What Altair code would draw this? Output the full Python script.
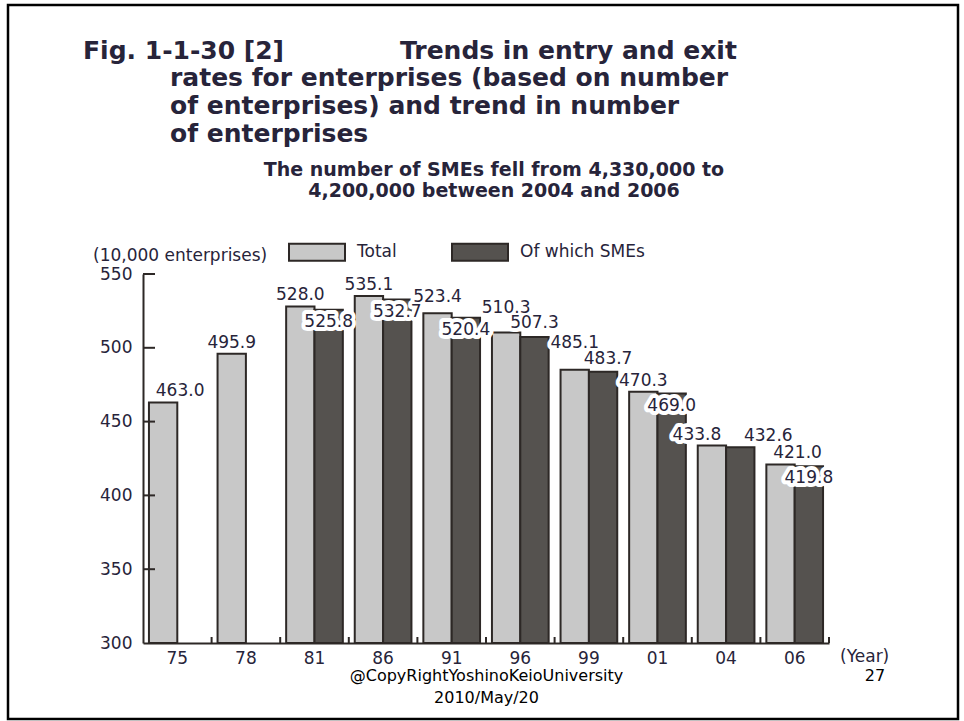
import altair as alt
import pandas as pd

# ---- data (10,000 enterprises) ----
years = ["75", "78", "81", "86", "91", "96", "99", "01", "04", "06"]
total = [463.0, 495.9, 528.0, 535.1, 523.4, 510.3, 485.1, 470.3, 433.8, 421.0]
smes = [None, None, 525.8, 532.7, 520.4, 507.3, 483.7, 469.0, 432.6, 419.8]
series = ["Total", "Of which SMEs"]
y_ticks = [300, 350, 400, 450, 500, 550]

fig_no = "Fig. 1-1-30 [2]"
title_lines = [
    "Trends in entry and exit",
    "rates for enterprises (based on number",
    "of enterprises) and trend in number",
    "of enterprises",
]
subtitle = [
    "The number of SMEs fell from 4,330,000 to",
    "4,200,000 between 2004 and 2006",
]
unit_label = "(10,000 enterprises)"
year_label = "(Year)"
footer = ["@CopyRightYoshinoKeioUniversity", "2010/May/20"]
page_no = "27"

# ---- styling ----
FONT = "DejaVu Sans"
LIGHT = "#c8c8c8"
DARK = "#55524f"
INK = "#2d2826"
TEXT = "#27243a"
PLOT_W, PLOT_H = 686, 369

# value-label placement in pixels: Total labels sit above the bar,
# SME labels sit just under the bar top, a few are nudged to avoid clashes
DEFAULT_DY = {"Total": -11, "Of which SMEs": 12}
NUDGE = {
    ("75", "Total"): (17, -11),
    ("91", "Total"): (0, -16),
    ("96", "Total"): (0, -25),
    ("99", "Total"): (0, -27),
    ("04", "Total"): (-15, -11),
    ("06", "Total"): (17, -11),
    ("96", "Of which SMEs"): (0, -14),
    ("99", "Of which SMEs"): (5, -13),
    ("04", "Of which SMEs"): (28, -11),
}

rows = []
for yr, t, s in zip(years, total, smes):
    for name, v in zip(series, [t, s]):
        if v is None:
            continue
        dx, dy = NUDGE.get((yr, name), (0, DEFAULT_DY[name]))
        rows.append({"year": yr, "series": name, "value": v, "ldx": dx, "ldy": dy})
df = pd.DataFrame(rows)


def x_enc(**kw):
    return alt.X(
        "year:N",
        sort=years,
        scale=alt.Scale(paddingInner=0, paddingOuter=0),
        axis=alt.Axis(
            title=None, ticks=False, labelAngle=0, labelFont=FONT, labelFontSize=17,
            labelColor=TEXT, labelPadding=7, domainColor=INK, domainWidth=2, grid=False,
        ),
        **kw,
    )


def y_enc(field):
    return alt.Y(
        field,
        scale=alt.Scale(domain=[300, 550], zero=False, nice=False),
        axis=alt.Axis(
            title=None, ticks=False, values=y_ticks, labelFont=FONT, labelFontSize=17,
            labelColor=TEXT, labelPadding=11, domainColor=INK, domainWidth=2, grid=False,
        ),
    )


x_off = alt.XOffset("series:N", sort=series, scale=alt.Scale(paddingInner=0, paddingOuter=0.21))

bars = alt.Chart(df).mark_bar(stroke=INK, strokeWidth=2).encode(
    x=x_enc(),
    xOffset=x_off,
    y=y_enc("value:Q"),
    y2=alt.datum(300),
    fill=alt.Fill(
        "series:N",
        sort=series,
        scale=alt.Scale(domain=series, range=[LIGHT, DARK]),
        legend=alt.Legend(
            title=None, orient="none", legendX=145, legendY=-51, direction="horizontal",
            symbolType="M-1,-0.3036L1,-0.3036L1,0.3036L-1,0.3036Z", symbolSize=3136,
            symbolStrokeColor=INK, symbolStrokeWidth=2, labelFont=FONT, labelFontSize=17,
            labelColor=TEXT, labelOffset=11, columnPadding=51, padding=0,
        ),
    ),
)

label_enc = dict(
    x=x_enc(),
    xOffset=x_off,
    y=y_enc("value:Q"),
    text=alt.Text("value:Q", format=".1f"),
)
label_style = dict(
    font=FONT, fontSize=17, baseline="middle", align="center",
    dx=alt.expr("datum.ldx"), dy=alt.expr("datum.ldy"),
)
# white backing behind each value so it reads over neighbouring bars
halo = alt.Chart(df).mark_text(
    fill="white", stroke="white", strokeWidth=8, strokeJoin="round", **label_style
).encode(**label_enc)
labels = alt.Chart(df).mark_text(fill=TEXT, **label_style).encode(**label_enc)

# inward tick marks on both axes
x_ticks = alt.Chart(pd.DataFrame({"year": years})).mark_rule(color=INK, strokeWidth=2).encode(
    x=x_enc(bandPosition=1), y=alt.value(PLOT_H), y2=alt.value(PLOT_H - 6)
)
y_tick_marks = alt.Chart(pd.DataFrame({"tick": y_ticks[1:]})).mark_rule(
    color=INK, strokeWidth=2
).encode(y=y_enc("tick:Q"), x=alt.value(0), x2=alt.value(12))


def note(text, x, y, size=17, weight="normal", align="left", baseline="middle", color=TEXT):
    return alt.Chart(pd.DataFrame({"t": [text]})).mark_text(
        font=FONT, fontSize=size, fontWeight=weight, align=align, baseline=baseline, color=color
    ).encode(x=alt.value(x), y=alt.value(y), text="t:N")


notes = [
    note(fig_no, -60, -215, size=25, weight="bold", baseline="alphabetic"),
    note(title_lines[0], 257, -215, size=25, weight="bold", baseline="alphabetic"),
    note(title_lines[1], 27, -188, size=25, weight="bold", baseline="alphabetic"),
    note(title_lines[2], 27, -160.5, size=25, weight="bold", baseline="alphabetic"),
    note(title_lines[3], 27, -132.5, size=25, weight="bold", baseline="alphabetic"),
    note(subtitle[0], 351, -98, size=19, weight="bold", align="center", baseline="alphabetic"),
    note(subtitle[1], 351, -77, size=19, weight="bold", align="center", baseline="alphabetic"),
    note(unit_label, -50, -18),
    note(year_label, 697, 383),
    note(footer[0], 343.5, 402, size=16, align="center", color="black"),
    note(footer[1], 343.5, 424, size=16, align="center", color="black"),
    note(page_no, 732, 402, size=16, align="center", color="black"),
]

frame = alt.Chart(pd.DataFrame({"f": [0]})).mark_rect(
    filled=False, stroke="black", strokeWidth=2.5
).encode(x=alt.value(-135), x2=alt.value(815), y=alt.value(-269), y2=alt.value(445))

chart = (
    alt.layer(bars, halo, labels, x_ticks, y_tick_marks, *notes, frame)
    .properties(
        width=PLOT_W,
        height=PLOT_H,
        autosize=alt.AutoSizeParams(type="none"),
        padding={"left": 143, "top": 274, "right": 135, "bottom": 78},
        background="white",
    )
    .configure_view(stroke=None)
)

chart.save("out.html", embed_options={"renderer": "svg", "actions": False})
